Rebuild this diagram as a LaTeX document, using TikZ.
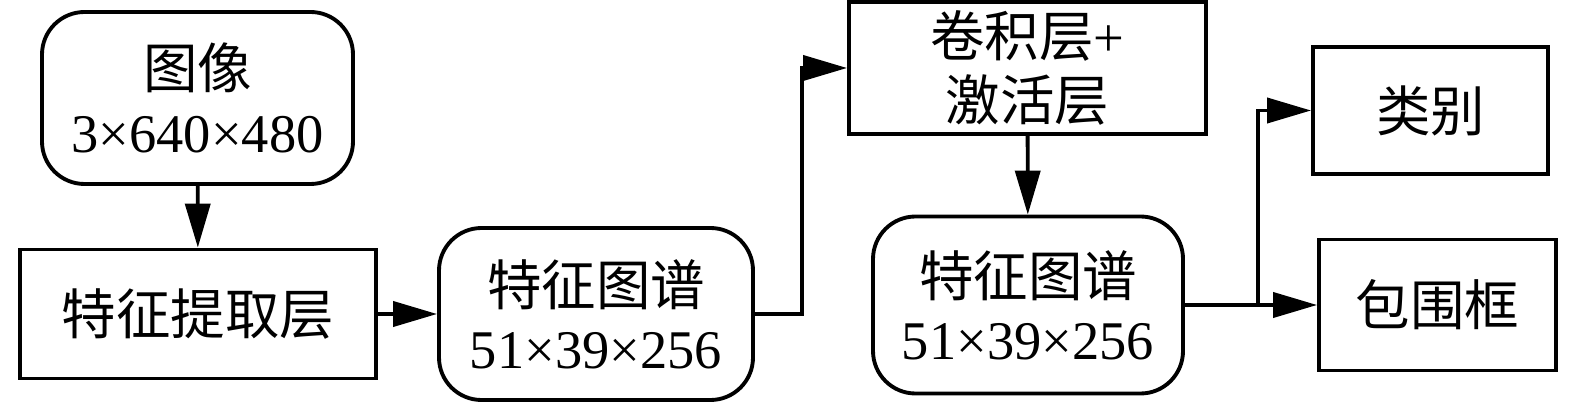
\documentclass[tikz,border=0pt]{standalone}
\usepackage{fontspec}
\setmainfont{Liberation Serif}
\newfontfamily\cjk{Noto Sans CJK SC}
\usetikzlibrary{arrows.meta}
\tikzset{
  box/.style={draw, line width=2.2pt, align=center, inner sep=0pt, font=\fontsize{31}{36}\selectfont},
  roundbox/.style={box, rounded corners=0.85cm},
  flow/.style={line width=2.2pt, -{Triangle[length=0.88cm,width=0.5cm]}}
}
\begin{document}
\begin{tikzpicture}
\useasboundingbox (0,0) rectangle (31.5,-8.12);

% Boxes
\node[roundbox, minimum width=6.22cm, minimum height=3.44cm] (img) at (3.95,-1.96) {{\cjk 图像}\\3×640×480};
\node[box, minimum width=7.12cm, minimum height=2.58cm] (feat) at (3.96,-6.28) {\cjk 特征提取层};
\node[roundbox, minimum width=6.28cm, minimum height=3.44cm] (fmapa) at (11.92,-6.28) {{\cjk 特征图谱}\\51×39×256};
\node[box, minimum width=7.14cm, minimum height=2.64cm] (conv) at (20.55,-1.36) {{\cjk 卷积层}+\\{\cjk 激活层}};
\node[roundbox, minimum width=6.2cm, minimum height=3.54cm] (fmapb) at (20.56,-6.1) {{\cjk 特征图谱}\\51×39×256};
\node[box, minimum width=4.7cm, minimum height=2.54cm] (cls) at (28.61,-2.21) {\cjk 类别};
\node[box, minimum width=4.74cm, minimum height=2.62cm] (bbox) at (28.75,-6.1) {\cjk 包围框};

% Connectors
\draw[flow] (img) -- (feat);
\draw[flow] (feat) -- (fmapa);
\draw[flow] (fmapa.east) -- ++(0.94,0) |- (conv.west);
\draw[flow] (conv) -- (fmapb);
\path (fmapb.east) ++(1.46,0) coordinate (split);
\draw[flow] (fmapb.east) -- (bbox.west);
\draw[flow] (split) |- (cls.west);
\end{tikzpicture}
\end{document}
